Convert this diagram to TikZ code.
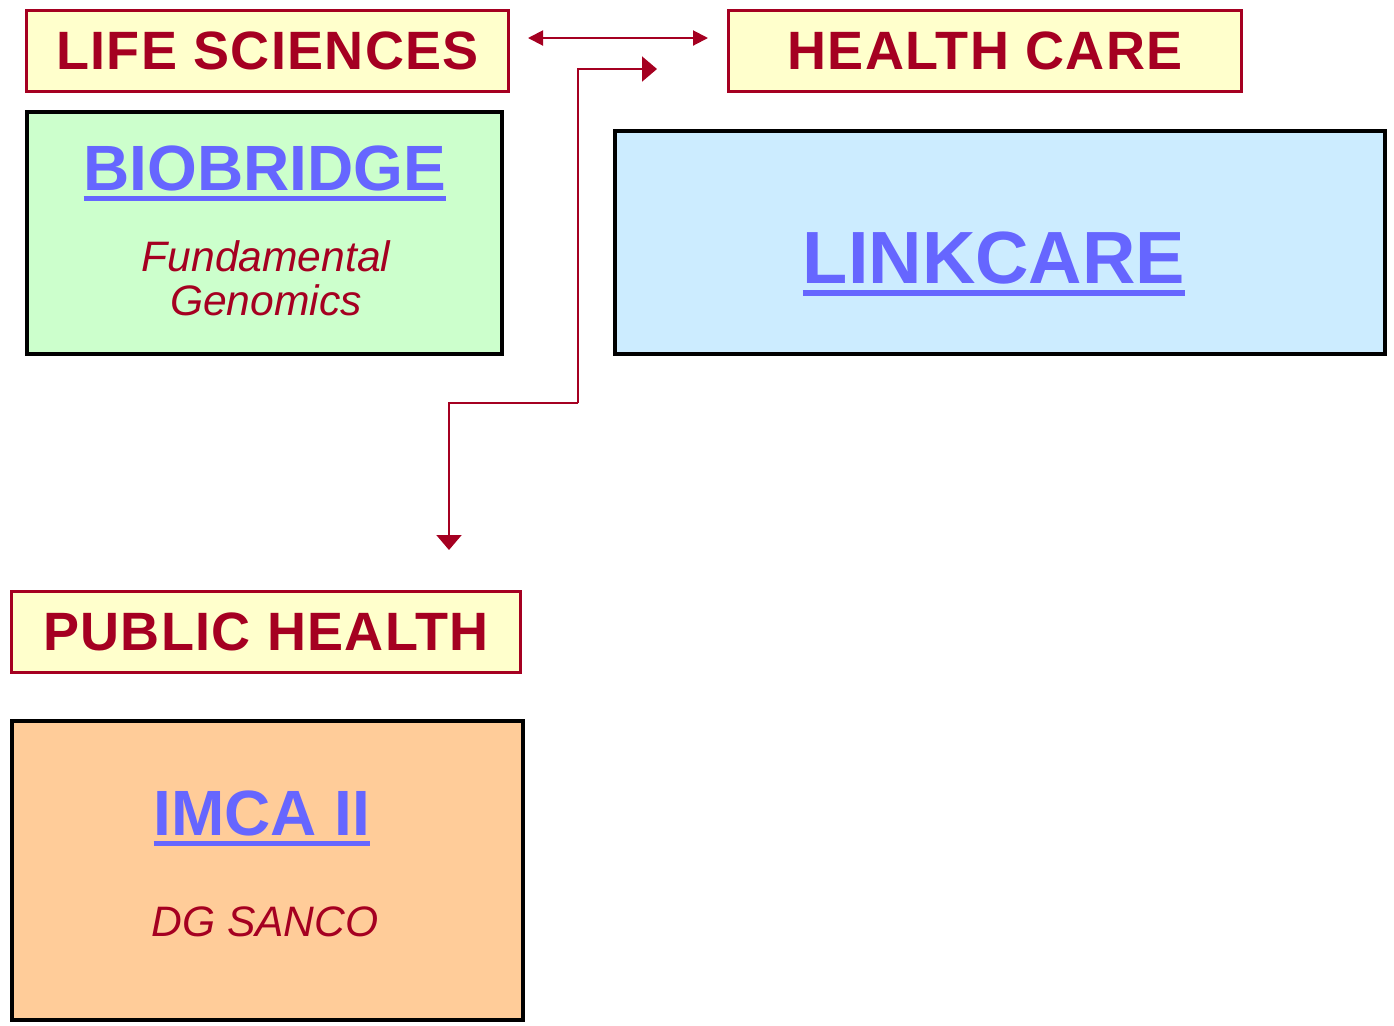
\documentclass[tikz,border=0pt]{standalone}
\usepackage{fontspec}
\setmainfont{Liberation Sans}
\usepackage{tikz}
\usetikzlibrary{arrows.meta}
\usetikzlibrary{calc,positioning}

\definecolor{darkred}{HTML}{A50021}
\definecolor{paleyellow}{HTML}{FFFFCC}
\definecolor{palegreen}{HTML}{CCFFCC}
\definecolor{paleblue}{HTML}{CCECFF}
\definecolor{paleorange}{HTML}{FFCC99}
\definecolor{linkblue}{HTML}{6666FF}

\newsavebox\ulbox
\newcommand\ulink[1]{\sbox\ulbox{#1}\rlap{\rule[-0.17em]{\wd\ulbox}{0.075em}}\usebox\ulbox}

\begin{document}
\begin{tikzpicture} [x=0.5pt, y=-0.5pt,
  sector/.style={draw=darkred, fill=paleyellow, line width=1.5pt, inner sep=0pt,
    minimum height=40.5pt, text=darkred, font=\fontsize{27}{27}\selectfont\bfseries\addfontfeature{LetterSpace=2.5}},
  project/.style={draw=black, line width=2pt, inner sep=0pt},
  projname/.style={anchor=base, inner sep=0pt, text=linkblue},
  projnote/.style={inner sep=0pt, text=darkred, align=center, font=\fontsize{21.3}{22}\selectfont\itshape},
  link/.style={draw=darkred, line width=1pt, arrows={-Triangle[length=7.5pt, width=12.5pt]}}]

\useasboundingbox (0,0) rectangle (1394,1025);
%\draw [help lines, step=50pt](0,0) grid (1394,1025);

\node [sector, minimum width=241pt] (lifesci) at (267.5,51) {LIFE SCIENCES};
\node [sector, minimum width=256.5pt] (healthcare) at (985,51) {HEALTH CARE};
\node [sector, minimum width=254.5pt] (publichealth) at (266,632) {PUBLIC HEALTH};

\node [project, fill=palegreen, minimum width=237.5pt, minimum height=121pt] (biobridge) at (264.5,233) {};
\node [project, fill=paleblue, minimum width=385pt, minimum height=111.5pt] (linkcare) at (1000,242.5) {};
\node [project, fill=paleorange, minimum width=255.5pt, minimum height=149.5pt] (imca) at (267.5,870.5) {};

\node [projname, font=\fontsize{32}{32}\selectfont\bfseries] (biobridgename) at (265,190) {\ulink{BIOBRIDGE}};
\node [projnote] (biobridgenote) at (266,278) {Fundamental\\Genomics};
\node [projname, font=\fontsize{37}{37}\selectfont\bfseries] (linkcarename) at (994,283) {\ulink{LINKCARE}};
\node [projname, font=\fontsize{32}{32}\selectfont\bfseries] (imcaname) at (262,835) {\ulink{IMCA II}};
\node [projnote, anchor=base] (imcanote) at (265,936) {DG SANCO};

\coordinate (fork) at (578,403);
\coordinate (tohealth) at (657,69);
\coordinate (topublic) at (449,550);

\draw [link, arrows={Triangle[length=7.5pt, width=7.5pt]-Triangle[length=7.5pt, width=7.5pt]}] ($(lifesci.east)+(18,-13)$) -- ($(healthcare.west)+(-19,-13)$);
\draw [link] (fork) |- (tohealth);
\draw [link] (fork) -| (topublic);

\end{tikzpicture}
\end{document}
